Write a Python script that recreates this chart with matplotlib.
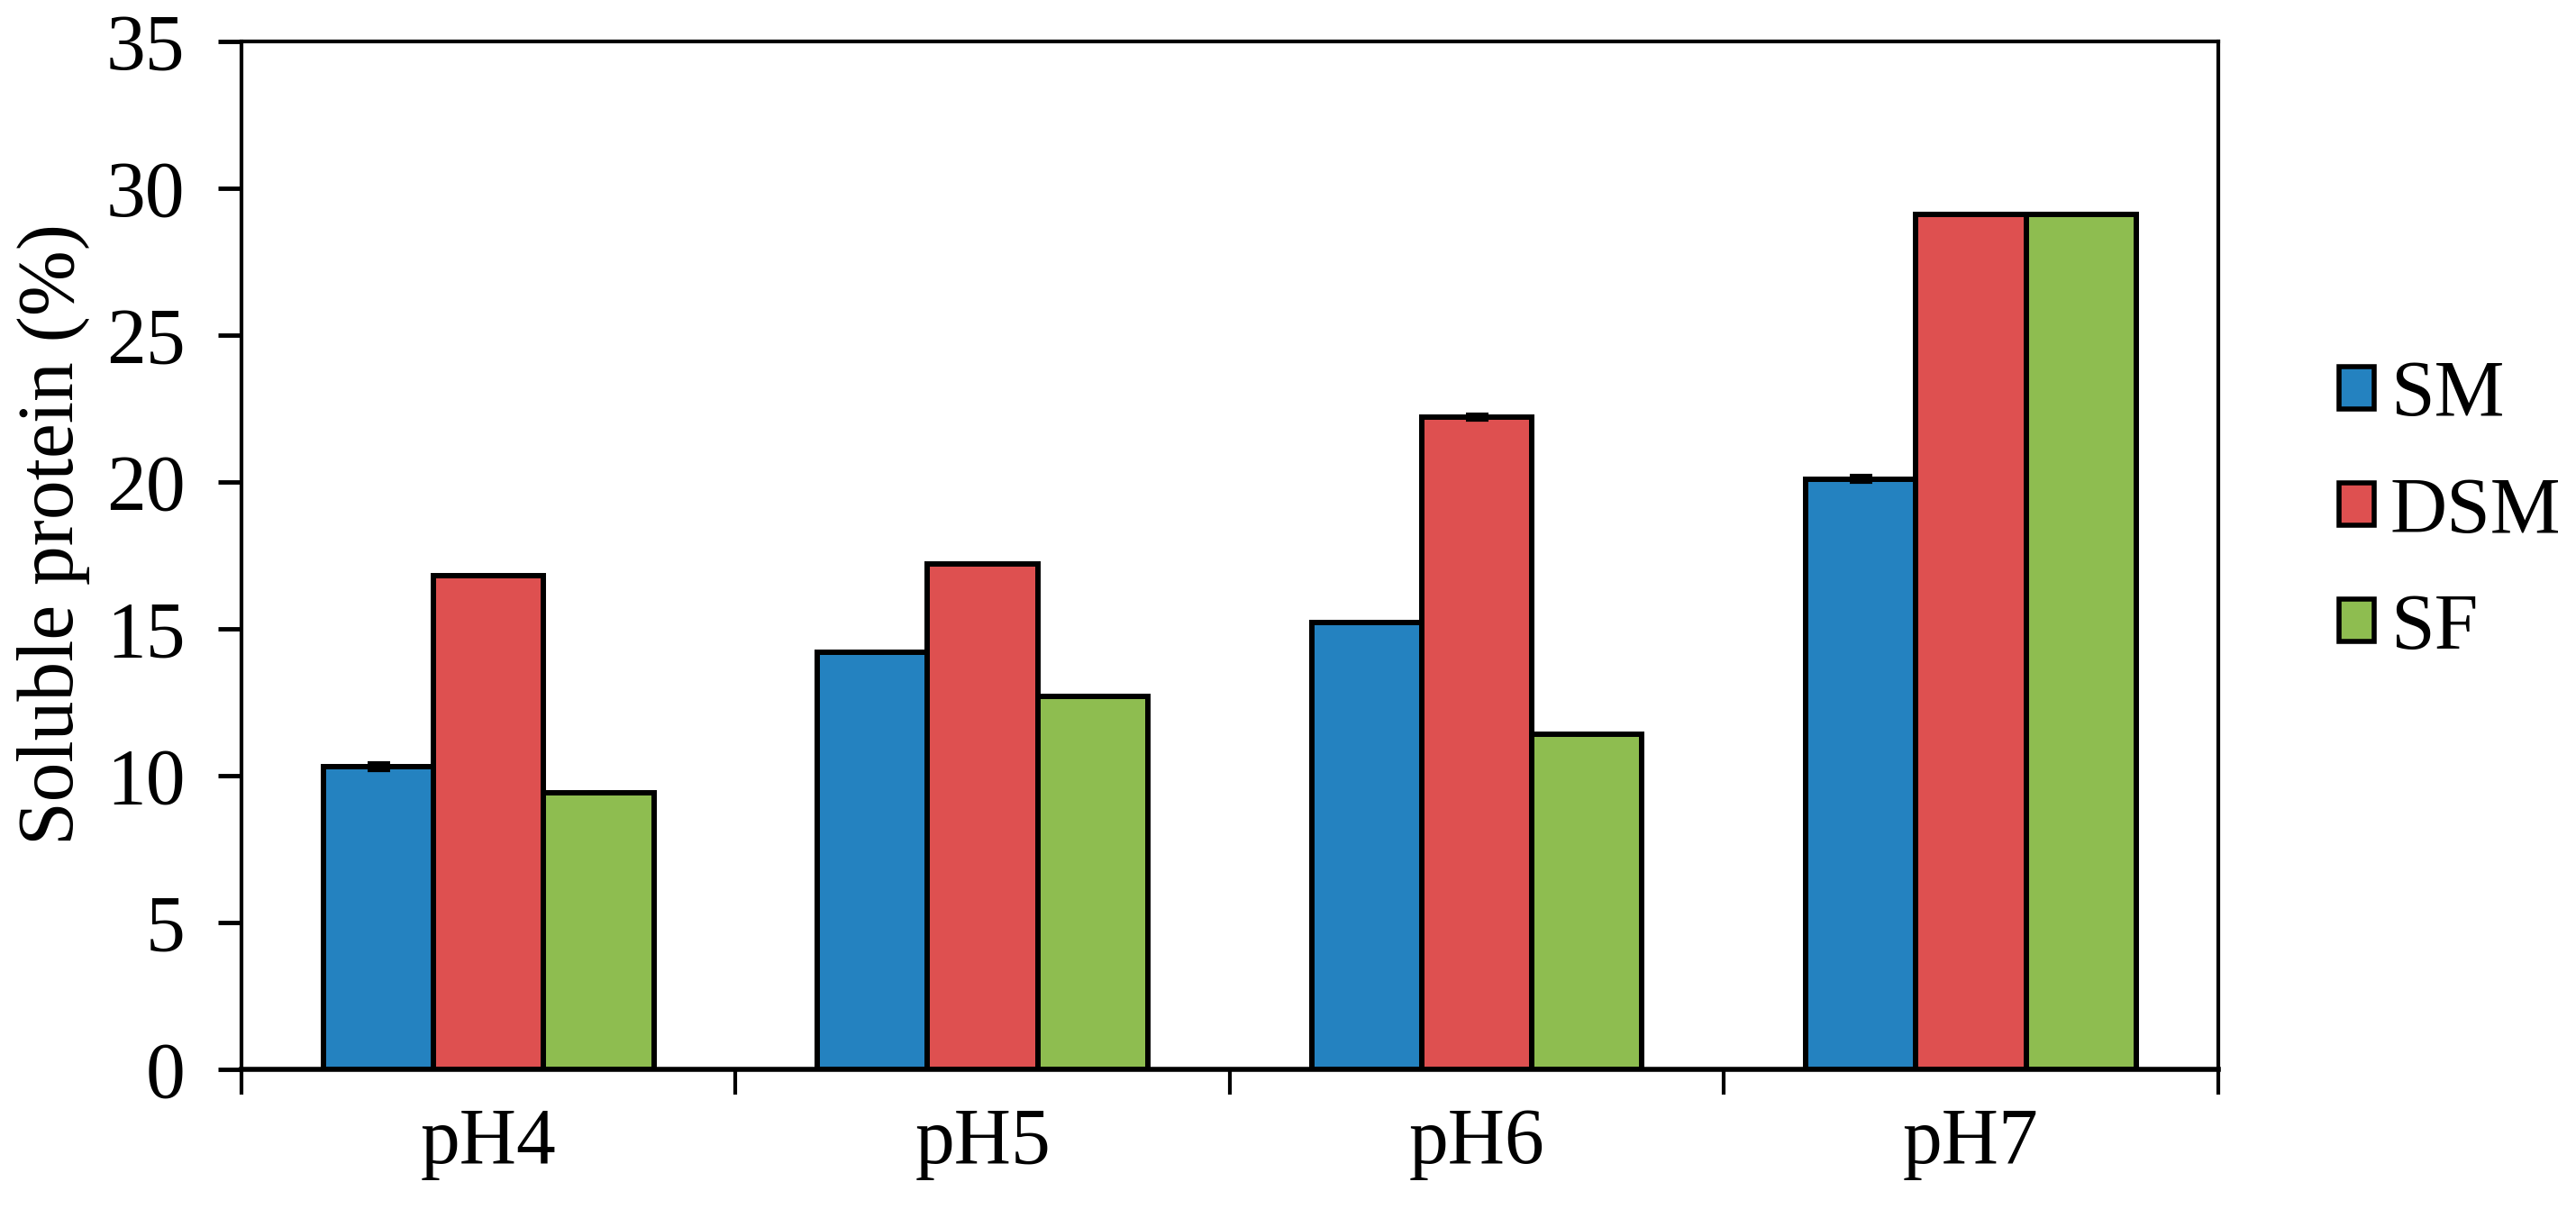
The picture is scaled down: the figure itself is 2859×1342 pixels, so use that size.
import matplotlib
matplotlib.use("Agg")
import matplotlib.pyplot as plt
import numpy as np
from matplotlib.patches import Patch

plt.rcParams['font.family'] = ['Liberation Serif', 'DejaVu Serif']

categories = ["pH4", "pH5", "pH6", "pH7"]
series = ["SM", "DSM", "SF"]
sm = [10.3, 14.2, 15.2, 20.1]
dsm = [16.8, 17.2, 22.2, 29.1]
sf = [9.4, 12.7, 11.4, 29.1]
sm_err = [0.12, 0.0, 0.0, 0.12]
dsm_err = [0.0, 0.0, 0.08, 0.0]
sf_err = [0.0, 0.0, 0.0, 0.0]
colors = ["#2482C0", "#DE5050", "#8EBD50"]
ylabel = "Soluble protein (%)"

values = [sm, dsm, sf]
errors = [sm_err, dsm_err, sf_err]

FS = 63

fig = plt.figure(figsize=(28.59, 13.42), dpi=100)
ax = fig.add_axes([0.0937, 0.1155, 0.861 - 0.0937, 0.966 - 0.1155])

x = np.arange(len(categories))
w = 0.223
for i, (vals, errs, c, name) in enumerate(zip(values, errors, colors, series)):
    pos = x + (i - 1) * w
    ax.bar(pos, vals, width=w, color=c, edgecolor='black', linewidth=4.3, label=name, zorder=2)
    ax.errorbar(pos, vals, yerr=errs, fmt='none', ecolor='black', elinewidth=3,
                capsize=9, capthick=3, zorder=3)

ax.set_xlim(-0.5, len(categories) - 0.5)
ax.set_ylim(0, 35)
ax.set_yticks(np.arange(0, 36, 5))
ax.set_xticks(np.arange(-0.5, len(categories), 1.0))
ax.set_xticklabels([])
ax.set_xticks(x, minor=True)
ax.set_xticklabels(categories, minor=True)
ax.tick_params(axis='x', which='major', direction='out', length=20, width=3, bottom=True, top=False)
ax.tick_params(axis='x', which='minor', length=0, pad=30, labelsize=FS)
ax.tick_params(axis='y', direction='out', length=19, width=3.5, labelsize=FS, pad=26, right=False)
for s in ax.spines.values():
    s.set_linewidth(3)
    s.set_color('black')
ax.spines['bottom'].set_linewidth(4)

ax.set_ylabel(ylabel, fontsize=FS)
ax.yaxis.set_label_coords(-0.0765, 0.52)

handles = [Patch(facecolor=c, edgecolor='black', linewidth=4, label=n) for c, n in zip(colors, series)]
fig.legend(handles=handles, loc='center left', bbox_to_anchor=(0.8805, 0.576), frameon=False,
           fontsize=FS, handlelength=0.45, handleheight=0.45, handletextpad=0.2, labelspacing=0.55)

fig.savefig("out.png", dpi=100)
